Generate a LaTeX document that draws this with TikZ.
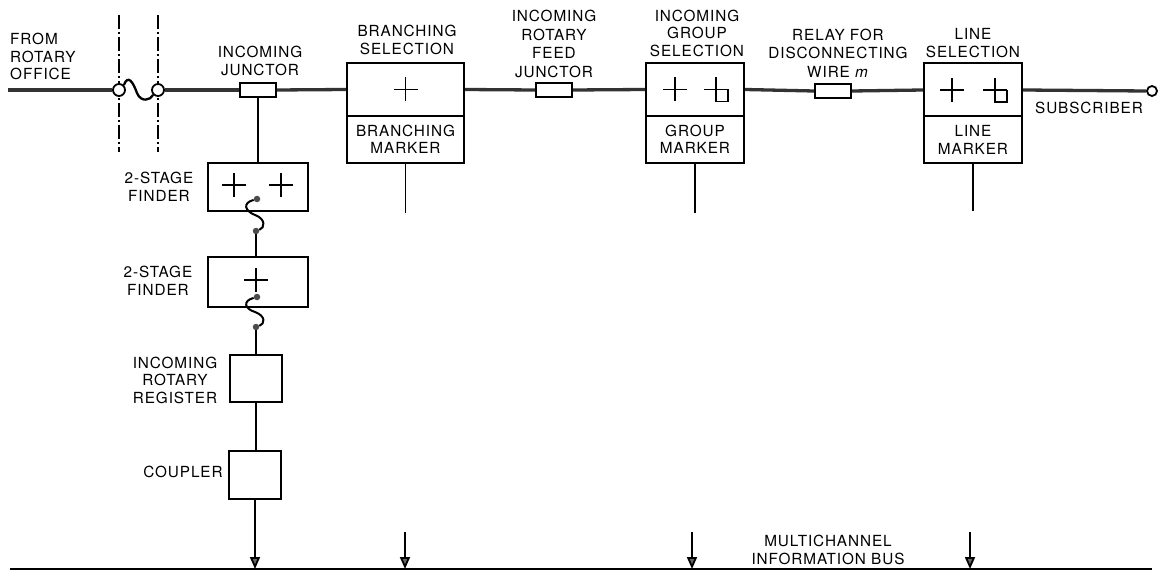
\documentclass[tikz,border=0pt]{standalone}
\usepackage{fontspec}
\setmainfont[LetterSpace=6]{TeX Gyre Heros}
\usetikzlibrary{arrows.meta}
\begin{document}
\begin{tikzpicture}[x=1pt,y=-1pt,
  every node/.style={font=\fontsize{15.3}{17.5}\selectfont},
  lbl/.style={align=center, inner sep=0pt},
  box/.style={draw, line width=2pt, inner sep=0pt, fill=white},
  relaybox/.style={box, line width=1.8pt, minimum width=36pt, minimum height=14pt},
  selbox/.style={box, minimum height=53pt},
  markbox/.style={box, minimum height=47pt, align=center},
  wire/.style={line width=3.3pt, black!80},
  conn/.style={line width=1.8pt},
  busarrow/.style={line width=1.8pt, -{Triangle[width=10pt,length=12pt,fill=black!60]}},
  dot/.style={circle, fill=black!70, inner sep=0pt, minimum size=6.5pt},
  term/.style={circle, draw, line width=1.8pt, fill=white, inner sep=0pt, minimum size=12pt},
  sepline/.style={line width=1.2pt, dash pattern=on 14pt off 3pt on 2pt off 3pt},
  plussym/.pic={\draw[line width=1.3pt] (-12,0) -- (12,0) (0,-12) -- (0,12);},
  boxsym/.pic={\draw[line width=1.3pt] (-12,0) -- (12,0) (0,-12) -- (0,12) -- (12,12) -- (12,0);}
]
\useasboundingbox (0,0) rectangle (1165,572);

% separation lines and fuse
\coordinate (s1t) at (119,15); \coordinate (s1b) at (119,152);
\coordinate (s2t) at (158,15); \coordinate (s2b) at (158,152);
\draw[sepline] (s1t) -- (s1b);
\draw[sepline] (s2t) -- (s2b);
\coordinate (lstart) at (8,90);
\node[term] (f1) at (119,90) {};
\node[term] (f2) at (158,90) {};
\draw[line width=2.3pt] (f1.north east) .. controls (128,74) and (133,82) .. (137,93) .. controls (141,103) and (151,100) .. (f2.south west);

% boxes on the main line
\node[relaybox] (jin) at (258,90) {};
\node[selbox, minimum width=117pt] (bsel) at (405.5,89.5) {};
\node[markbox, minimum width=117pt] (bmark) at (405.5,139.5) {BRANCHING\\MARKER};
\node[relaybox] (jfeed) at (554,90) {};
\node[selbox, minimum width=98pt] (gsel) at (695,89.5) {};
\node[markbox, minimum width=98pt] (gmark) at (695,139.5) {GROUP\\MARKER};
\node[relaybox] (relay) at (833,91) {};
\node[selbox, minimum width=98pt] (lsel) at (973,90) {};
\node[markbox, minimum width=98pt] (lmark) at (973,140) {LINE\\MARKER};
\node[term, minimum size=10pt] (sub) at (1152,91) {};

\pic at (bsel.center) {plussym};
\pic at ([xshift=-20pt]gsel.center) {plussym};
\pic at ([xshift=21pt]gsel.center) {boxsym};
\pic at ([xshift=-21pt]lsel.center) {plussym};
\pic at ([xshift=22pt]lsel.center) {boxsym};

% main line
\draw[wire] (lstart) -- (f1.west);
\draw[wire] (f2.east) -- (jin.west);
\draw[wire] (jin.east) -- (bsel.west);
\draw[wire] (bsel.east) -- (jfeed.west);
\draw[wire] (jfeed.east) -- (gsel.west);
\draw[wire] (gsel.east) -- (relay.west);
\draw[wire] (relay.east) -- (lsel.west);
\draw[wire] (lsel.east) -- (sub.west);

% left column
\node[box, minimum width=100pt, minimum height=48pt] (fin1) at (258,187) {};
\node[box, minimum width=100pt, minimum height=50pt] (fin2) at (258,282) {};
\node[box, minimum width=52pt, minimum height=47pt] (reg) at (256,378.5) {};
\node[box, minimum width=52pt, minimum height=48pt] (coup) at (255,475) {};
\pic at (234,185) {plussym};
\pic at (281,185) {plussym};
\pic at (256,280) {plussym};

\node[dot] (d1) at (257,199) {};
\node[dot] (d2) at (256,231) {};
\node[dot] (d3) at (257,297) {};
\node[dot] (d4) at (256,327) {};

\draw[conn] (jin.south) -- (fin1.north);
\draw[line width=2pt] (d1) .. controls (242,203) and (245,211) .. (255,215) .. controls (266,219) and (265,228) .. (d2);
\draw[conn] (d2) -- (d2 |- fin2.north);
\draw[line width=2pt] (d3) .. controls (242,301) and (245,309) .. (255,312) .. controls (266,316) and (265,324) .. (d4);
\draw[conn] (d4) -- (d4 |- reg.north);
\draw[conn] (reg.south) -- (reg.south |- coup.north);

% bus
\coordinate (busL) at (10,569);
\coordinate (busR) at (1152,569);
\draw[line width=2pt] (busL) -- (busR);
\draw[busarrow] (coup.south) -- (coup.south |- busL);
\coordinate (a2) at (405,532);
\coordinate (a3) at (692,532);
\coordinate (a4) at (970,532);
\draw[busarrow] (a2) -- (a2 |- busL);
\draw[busarrow] (a3) -- (a3 |- busL);
\draw[busarrow] (a4) -- (a4 |- busL);

% marker stubs
\coordinate (e1) at (bmark.south |- 0,213);
\coordinate (e2) at (gmark.south |- 0,213);
\coordinate (e3) at (lmark.south |- 0,211);
\draw[conn] (bmark.south) -- (e1);
\draw[conn] (gmark.south) -- (e2);
\draw[conn] (lmark.south) -- (e3);

% labels
\node[lbl, align=left, anchor=north west] (tfrom) at (10,33) {FROM\\ROTARY\\OFFICE};
\node[lbl] (tjin) at (260,61) {INCOMING\\JUNCTOR};
\node[lbl] (tbsel) at (407,40) {BRANCHING\\SELECTION};
\node[lbl, font=\fontsize{15.3}{18.5}\selectfont] (tfeed) at (554,44) {INCOMING\\ROTARY\\FEED\\JUNCTOR};
\node[lbl] (tgsel) at (697,33) {INCOMING\\GROUP\\SELECTION};
\node[lbl, font=\fontsize{15.3}{18.5}\selectfont] (trelay) at (838,53) {RELAY FOR\\DISCONNECTING\\WIRE \textit{m}};
\node[lbl] (tlsel) at (973,43) {LINE\\SELECTION};
\node[lbl] (tsub) at (1089,108) {SUBSCRIBER};
\node[lbl] (tfin1) at (159,187) {2-STAGE\\FINDER};
\node[lbl] (tfin2) at (158,281) {2-STAGE\\FINDER};
\node[lbl] (treg) at (175,380) {INCOMING\\ROTARY\\REGISTER};
\node[lbl] (tcoup) at (183,472) {COUPLER};
\node[lbl] (tbus) at (828,550) {MULTICHANNEL\\INFORMATION BUS};
\end{tikzpicture}
\end{document}
